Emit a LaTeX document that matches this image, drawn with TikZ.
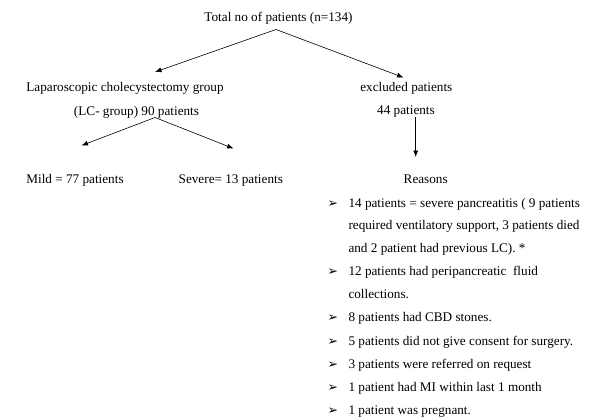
\documentclass[tikz,border=0pt]{standalone}
\usepackage{fontspec}
\setmainfont{Liberation Serif}
\newfontfamily\dejavu{DejaVu Sans}
\usetikzlibrary{arrows.meta}
\begin{document}
\begin{tikzpicture}[x=1pt,y=-1pt,
  lbl/.style={inner sep=0pt,anchor=base,font=\fontsize{13.2}{16}\selectfont},
  itm/.style={lbl,anchor=base west},
  bul/.style={inner sep=0pt,anchor=base west,font=\dejavu\fontsize{12.5}{14}\selectfont},
  arr/.style={-{Latex[length=6.5pt,width=5pt]},line width=0.6pt}]
\useasboundingbox (0,0) rectangle (593,417);
\node[lbl] (total) at (278.5,22) {Total no of patients (n=134)};
\coordinate (top) at (276,29.5);
\node[lbl] (lc1) at (125,92) {Laparoscopic cholecystectomy group};
\node[lbl] (lc2) at (136.5,115) {(LC- group) 90 patients};
\node[lbl] (exc1) at (406.3,92) {excluded patients};
\node[lbl] (exc2) at (406,114.5) {44 patients};
\coordinate (lcend) at (155,72);
\coordinate (excend) at (403.5,77.5);
\draw[arr] (top) -- (lcend);
\draw[arr] (top) -- (excend);
\coordinate (apex) at (155,117.5);
\coordinate (mildend) at (81.5,145.5);
\coordinate (sevend) at (233.5,148.5);
\draw[arr] (apex) -- (mildend);
\draw[arr] (apex) -- (sevend);
\node[lbl] (mild) at (75,183.5) {Mild = 77 patients};
\node[lbl] (severe) at (230.8,183.5) {Severe= 13 patients};
\coordinate (rs) at (415.7,117);
\coordinate (re) at (415.7,157);
\draw[arr] (rs) -- (re);
\node[lbl] (reasons) at (425.7,183.5) {Reasons};
% bullets
\foreach \n/\y in {1/207,2/275,3/321.5,4/345,5/368,6/391,7/414.5}{
  \node[bul] (b\n) at (327.5,\y) {➢};
}
\node[itm] (r1a) at (348.3,207) {14 patients = severe pancreatitis ( 9 patients};
\node[itm] (r1b) at (348.3,229.5) {required ventilatory support, 3 patients died};
\node[itm] (r1c) at (348.3,252) {and 2 patient had previous LC). *};
\node[itm] (r2a) at (348.3,275) {12 patients had peripancreatic\ \ fluid};
\node[itm] (r2b) at (348.3,298) {collections.};
\node[itm] (r3) at (348.3,321.5) {8 patients had CBD stones.};
\node[itm] (r4) at (348.3,345) {5 patients did not give consent for surgery.};
\node[itm] (r5) at (348.3,368) {3 patients were referred on request};
\node[itm] (r6) at (348.3,391) {1 patient had MI within last 1 month};
\node[itm] (r7) at (348.3,414.5) {1 patient was pregnant.};
\end{tikzpicture}
\end{document}
